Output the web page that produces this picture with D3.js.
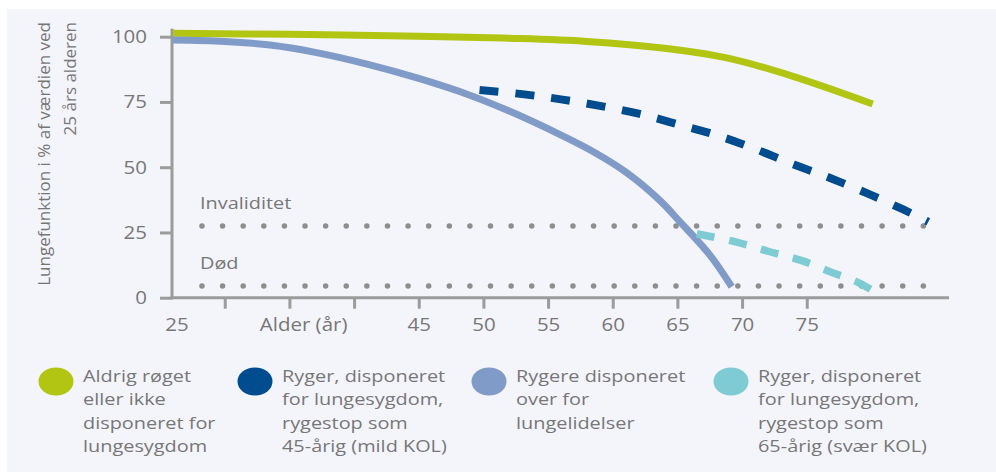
<!DOCTYPE html>
<html>
<head>
<meta charset="utf-8">
<script src="https://cdn.jsdelivr.net/npm/d3@7/dist/d3.min.js"></script>
<style>
  html, body { margin: 0; padding: 0; background: #ffffff; }
  svg { display: block; }
  text { font-family: "Open Sans", "Noto Sans", sans-serif; }
</style>
</head>
<body>
<svg id="chart" width="996" height="472"></svg>
<script>
// ---------- DATA ----------
const neverSmoked = [[26,101.3],[35,100.9],[45,100.2],[52,99.4],[58,98.2],[64,95.6],[69,91.7],[74,84.7],[80.1,74.2]];
const smokerStop45 = [[49.7,79.6],[53,78],[56,76],[59,73.5],[62,70.5],[65,66.5],[68,62.3],[71,57],[74,51],[77,45.5],[80,39.3],[82.5,33.7],[84.4,29.1]];
const smokerDisposed = [[26,98.7],[30,98.2],[33.5,96.8],[37,94],[41,89.5],[45,84],[49,77.5],[52,71.5],[56,62.3],[58.5,55.9],[61.1,47.8],[63.7,37],[65.1,29.6],[67.5,16.4],[69.2,4.2]];
const smokerStop65 = [[66.5,24.5],[69.5,21.4],[72,17.8],[74.5,14.4],[77,9.6],[79,5.8],[80.5,1.5]];

const refLines = [{label: "Invaliditet", value: 27.5}, {label: "Død", value: 4.5}];
const refRange = [28.24, 85.6];

const yTicks = [0, 25, 50, 75, 100];
const xTicks = [30, 35, 40, 45, 50, 55, 60, 65, 70, 75];
const xLabeled = [45, 50, 55, 60, 65, 70, 75];
const xStartLabel = "25";
const xTitle = "Alder (år)";
const yTitle = ["Lungefunktion i % af værdien ved", "25 års alderen"];

const legendItems = [
  {color: "#b1c512", lines: ["Aldrig røget", "eller ikke", "disponeret for", "lungesygdom"]},
  {color: "#004c8e", lines: ["Ryger, disponeret", "for lungesygdom,", "rygestop som", "45-årig (mild KOL)"]},
  {color: "#819bc9", lines: ["Rygere disponeret", "over for", "lungelidelser"]},
  {color: "#7fcbd3", lines: ["Ryger, disponeret", "for lungesygdom,", "rygestop som", "65-årig (svær KOL)"]}
];

// ---------- LAYOUT ----------
const svg = d3.select("#chart");
const SX = 1.17;          // horizontal stretch of the original artwork
const textColor = "#777777";
const axisColor = "#9b9b9b";

svg.append("rect").attr("x", 7).attr("y", 9).attr("width", 989).attr("height", 463).attr("fill", "#f4f5fa");

const x = d3.scaleLinear().domain([26, 86]).range([173, 949]);
const y = d3.scaleLinear().domain([0, 100]).range([297.7, 36.7]);

function stretchedText(g, tx, ty, str, anchor) {
  return g.append("text")
    .attr("transform", `translate(${tx},${ty}) scale(${SX},1)`)
    .attr("text-anchor", anchor || "start")
    .text(str);
}

// reference dotted lines
const refG = svg.append("g");
refLines.forEach(r => {
  refG.append("path")
    .attr("d", d3.line().x(d => x(d)).y(() => y(r.value))(refRange))
    .attr("fill", "none")
    .attr("stroke", "#8e8e8e")
    .attr("stroke-width", 5.5)
    .attr("stroke-linecap", "round")
    .attr("stroke-dasharray", "0.01 20.6");
  stretchedText(refG, x(refRange[0]) - 2, y(r.value) - 17, r.label)
    .attr("fill", textColor).attr("font-size", 17);
});

// axes
const axG = svg.append("g");
axG.append("line")
  .attr("x1", x(26) - 1).attr("x2", x(26) - 1)
  .attr("y1", y(103)).attr("y2", y(0) + 1.5)
  .attr("stroke", axisColor).attr("stroke-width", 3);
axG.append("line")
  .attr("x1", x(26) - 2.5).attr("x2", x(86))
  .attr("y1", y(0)).attr("y2", y(0))
  .attr("stroke", axisColor).attr("stroke-width", 3);

const yAxis = d3.axisLeft(y).tickValues(yTicks).tickSize(12).tickSizeOuter(0).tickPadding(0);
const yG = svg.append("g").attr("transform", `translate(${x(26) - 1},0)`).call(yAxis);
yG.select(".domain").remove();
yG.selectAll(".tick line").attr("stroke", axisColor).attr("stroke-width", 3);
yG.selectAll(".tick text")
  .attr("x", null).attr("dy", null)
  .attr("transform", `translate(-25,6) scale(${SX},1)`)
  .attr("fill", textColor).attr("font-size", 17.5)
  .attr("font-family", '"Open Sans", sans-serif');

const xAxis = d3.axisBottom(x).tickValues(xTicks).tickSize(11).tickSizeOuter(0)
  .tickFormat(d => xLabeled.includes(d) ? String(d) : "");
const xG = svg.append("g").attr("transform", `translate(0,${y(0)})`).call(xAxis);
xG.select(".domain").remove();
xG.selectAll(".tick line").attr("stroke", axisColor).attr("stroke-width", 3);
xG.selectAll(".tick text")
  .attr("y", null).attr("dy", null)
  .attr("transform", `translate(0,33) scale(${SX},1)`)
  .attr("fill", textColor).attr("font-size", 17.5)
  .attr("font-family", '"Open Sans", sans-serif');

stretchedText(svg, x(26) + 4, 331, xStartLabel, "middle").attr("fill", textColor).attr("font-size", 17.5);
stretchedText(svg, x(36.1), 331, xTitle, "middle").attr("fill", textColor).attr("font-size", 17.5);

// y title
yTitle.forEach((t, i) => {
  svg.append("text")
    .attr("transform", `translate(${50 + i * 26},22) rotate(-90)`)
    .attr("text-anchor", "end")
    .attr("fill", textColor)
    .attr("font-size", 17)
    .text(t);
});

// series
const line = d3.line().x(d => x(d[0])).y(d => y(d[1])).curve(d3.curveCatmullRom.alpha(0.5));
const plotG = svg.append("g");
plotG.append("path").datum(neverSmoked).attr("d", line)
  .attr("fill", "none").attr("stroke", legendItems[0].color).attr("stroke-width", 7);
plotG.append("path").datum(smokerDisposed).attr("d", line)
  .attr("fill", "none").attr("stroke", legendItems[2].color).attr("stroke-width", 7);
plotG.append("path").datum(smokerStop45).attr("d", line)
  .attr("fill", "none").attr("stroke", legendItems[1].color).attr("stroke-width", 8)
  .attr("stroke-dasharray", "19 17");
plotG.append("path").datum(smokerStop65).attr("d", line)
  .attr("fill", "none").attr("stroke", legendItems[3].color).attr("stroke-width", 7.5)
  .attr("stroke-dasharray", "18 15");

// legend
const legendX = [56, 255, 489, 731];
const legG = svg.append("g");
legendItems.forEach((it, i) => {
  legG.append("ellipse").attr("cx", legendX[i]).attr("cy", 381.5).attr("rx", 17.5).attr("ry", 14)
    .attr("fill", it.color);
  it.lines.forEach((ln, j) => {
    stretchedText(legG, legendX[i] + 27, 382 + j * 23.3, ln)
      .attr("fill", textColor).attr("font-size", 17);
  });
});
</script>
</body>
</html>
